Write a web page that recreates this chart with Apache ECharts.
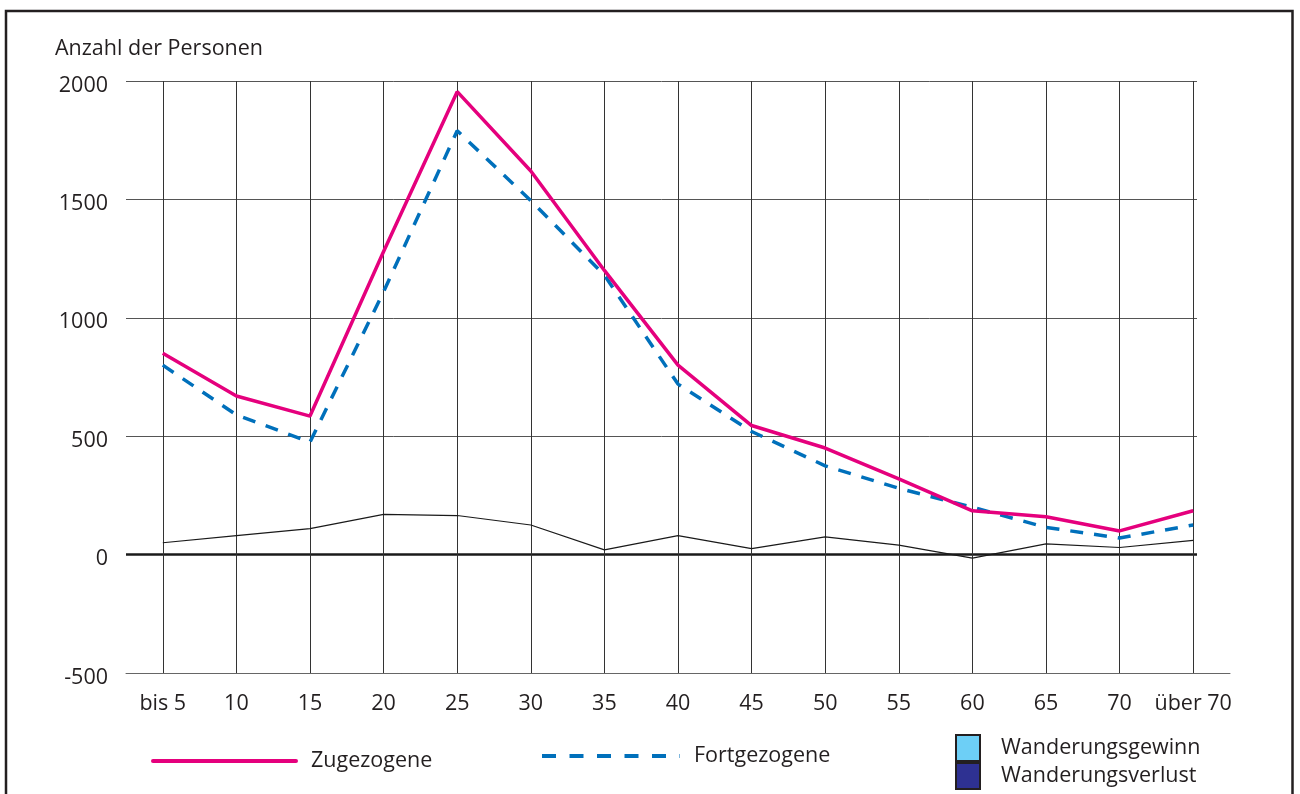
<!DOCTYPE html>
<html><head><meta charset="utf-8">
<script src="https://cdn.jsdelivr.net/npm/echarts@6/dist/echarts.min.js"></script>
<style>html,body{margin:0;padding:0;background:#fff}#c{width:1300px;height:794px}</style>
</head><body><div id="c"></div>
<script>
const categories = ['bis 5','10','15','20','25','30','35','40','45','50','55','60','65','70','über 70'];
const zugezogene = [850,670,585,1280,1955,1620,1200,800,545,450,320,185,160,100,185];
const fortgezogene = [800,590,475,1110,1790,1495,1180,720,520,375,280,200,115,70,125];
const saldo = [50,80,110,170,165,125,20,80,25,75,40,-15,45,30,60];
const yMin = -500, yMax = 2000, yStep = 500;

const font = "'Open Sans', sans-serif";
const txt = '#231f20';
const clear = 'rgba(0,0,0,0)';
const fs = 21.5;
const chart = echarts.init(document.getElementById('c'));
chart.setOption({
  animation: false,
  backgroundColor: '#fff',
  textStyle: {fontFamily: font},
  title: {text: 'Anzahl der Personen', left: 55, top: 38, padding: 0,
    textStyle: {fontSize: fs, fontWeight: 'normal', color: txt, fontFamily: font}},
  grid: [
    {left: 126, right: 70, top: 81, bottom: 121},
    {left: 126, right: 103, top: 81, bottom: 121}
  ],
  xAxis: [
    {type: 'category', data: categories, gridIndex: 0, boundaryGap: true,
      axisLine: {onZero: false, lineStyle: {color: '#666', width: 1}}, axisTick: {show: false},
      axisLabel: {interval: 0, margin: 20, fontSize: fs, color: txt, fontFamily: font},
      splitLine: {show: true, interval: 0, alignWithLabel: true, lineStyle: {color: '#333', width: 1}}},
    {type: 'value', gridIndex: 1, min: 0, max: 1, show: false}
  ],
  yAxis: [
    {type: 'value', gridIndex: 0, min: yMin, max: yMax, interval: yStep,
      axisLine: {show: false}, axisTick: {show: false}, splitLine: {show: false},
      axisLabel: {margin: 18, fontSize: fs, color: txt, fontFamily: font, verticalAlign: 'top', lineHeight: 9,
        formatter: v => String(v)}},
    {type: 'value', gridIndex: 1, min: yMin, max: yMax, interval: yStep,
      axisLabel: {show: false}, axisLine: {show: false}, axisTick: {show: false},
      splitLine: {show: true, lineStyle: {color: '#555', width: 1}}},
    {type: 'value', gridIndex: 1, min: yMin, max: yMax, interval: yStep, position: 'left',
      axisLabel: {show: false}, axisLine: {show: false}, axisTick: {show: false},
      splitLine: {show: true, lineStyle: {color: [clear, '#1a1a1a', clear, clear, clear, clear], width: 2.5}}}
  ],
  legend: [
    {data: ['Zugezogene'], left: 151, top: 750, padding: 0, itemWidth: 143, itemHeight: 12, selectedMode: false,
      itemStyle: {opacity: 0}, lineStyle: {width: 4, cap: 'round'},
      textStyle: {fontSize: fs, color: txt, fontFamily: font, padding: [0, 0, 0, 10]}},
    {data: ['Fortgezogene'], left: 540, top: 745, padding: 0, itemWidth: 138, itemHeight: 12, selectedMode: false,
      itemStyle: {opacity: 0}, lineStyle: {width: 4, type: [14, 13.5]},
      textStyle: {fontSize: fs, color: txt, fontFamily: font, padding: [0, 0, 0, 9]}},
    {data: ['Wanderungsgewinn', 'Wanderungsverlust'], orient: 'vertical', left: 955, top: 734, padding: 0,
      itemWidth: 24, itemHeight: 26, itemGap: 0, icon: 'rect', selectedMode: false,
      textStyle: {fontSize: fs, color: txt, fontFamily: font, padding: [0, 0, 0, 16]}}
  ],
  series: [
    {name: 'Wanderungssaldo', type: 'line', data: saldo, symbol: 'none', z: 3,
      lineStyle: {color: '#1a1a1a', width: 1.2}, itemStyle: {color: '#1a1a1a'}},
    {name: 'Fortgezogene', type: 'line', data: fortgezogene, symbol: 'none', z: 4,
      lineStyle: {color: '#0070bb', width: 3.5, type: [13, 11]}, itemStyle: {color: '#0070bb'}},
    {name: 'Zugezogene', type: 'line', data: zugezogene, symbol: 'none', z: 5,
      lineStyle: {color: '#e5007d', width: 3.5}, itemStyle: {color: '#e5007d'}},
    {name: 'Wanderungsgewinn', type: 'bar', data: [],
      itemStyle: {color: '#6dcff6', borderColor: txt, borderWidth: 1.5}},
    {name: 'Wanderungsverlust', type: 'bar', data: [],
      itemStyle: {color: '#2e3192', borderColor: txt, borderWidth: 1.5}}
  ],
  graphic: [
    {type: 'rect', silent: true, z: 100,
      shape: {x: 6, y: 11, width: 1286.5, height: 900},
      style: {fill: 'none', stroke: txt, lineWidth: 2.5}}
  ]
});
</script></body></html>
